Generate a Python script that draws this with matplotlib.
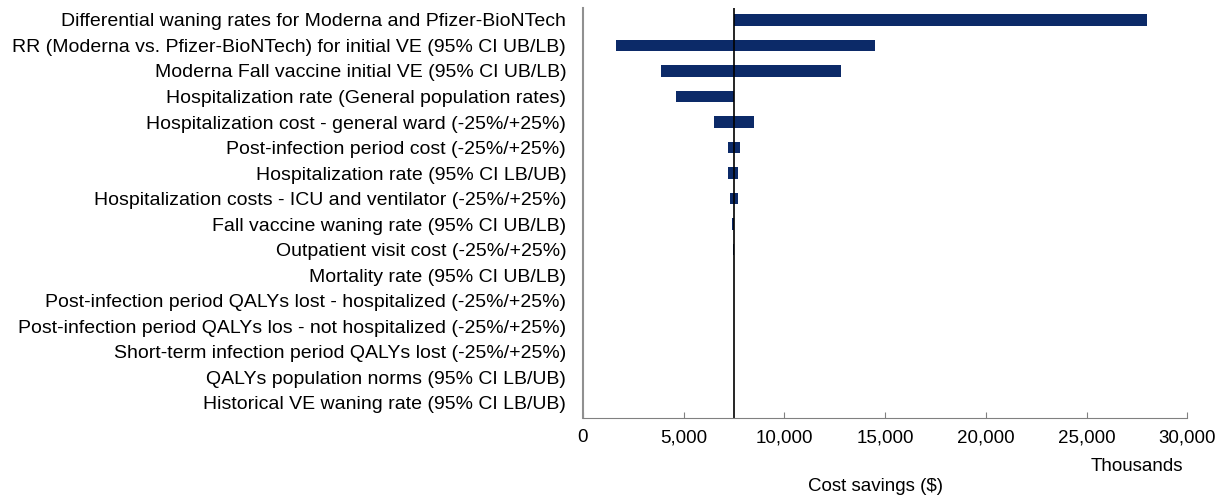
import matplotlib.pyplot as plt
import numpy as np

plt.rcParams['font.family'] = ['Liberation Sans', 'DejaVu Sans']

labels = [
    "Differential waning rates for Moderna and Pfizer-BioNTech",
    "RR (Moderna vs. Pfizer-BioNTech) for initial VE (95% CI UB/LB)",
    "Moderna Fall vaccine initial VE (95% CI UB/LB)",
    "Hospitalization rate (General population rates)",
    "Hospitalization cost - general ward (-25%/+25%)",
    "Post-infection period cost (-25%/+25%)",
    "Hospitalization rate (95% CI LB/UB)",
    "Hospitalization costs - ICU and ventilator (-25%/+25%)",
    "Fall vaccine waning rate (95% CI UB/LB)",
    "Outpatient visit cost (-25%/+25%)",
    "Mortality rate (95% CI UB/LB)",
    "Post-infection period QALYs lost - hospitalized (-25%/+25%)",
    "Post-infection period QALYs los - not hospitalized (-25%/+25%)",
    "Short-term infection period QALYs lost (-25%/+25%)",
    "QALYs population norms (95% CI LB/UB)",
    "Historical VE waning rate (95% CI LB/UB)",
]
base = 7480
low = [7480, 1650, 3900, 4630, 6530, 7190, 7190, 7290, 7400, 7450,
       7480, 7480, 7480, 7480, 7480, 7480]
high = [28000, 14500, 12800, 7480, 8500, 7810, 7720, 7700, 7480, 7490,
        7480, 7480, 7480, 7480, 7480, 7480]

y = np.arange(len(labels))
fig = plt.figure(figsize=(12.27, 4.98), dpi=100)
ax = fig.add_axes([0.475, 0.1606, 0.4926, 0.8234])
ax.barh(y, np.array(high) - np.array(low), left=low, height=0.46, color='#0c2a68')
ax.axvline(base, color='black', lw=1.2)

ax.set_xlim(0, 30000)
ax.set_ylim(15.6, -0.47)
ax.set_yticks(y)
ax.set_yticklabels(labels, fontsize=14)
ax.tick_params(axis='y', length=0, pad=12)
ax.set_xticks(range(0, 30001, 5000))
ax.set_xticklabels(["{:,}".format(v) for v in range(0, 30001, 5000)], fontsize=13.5)
ax.tick_params(axis='x', direction='in', length=4, pad=8, color='#808080')
for s in ['top', 'right']:
    ax.spines[s].set_visible(False)
ax.spines['left'].set_color('#909090')
ax.spines['bottom'].set_color('#808080')
ax.spines['left'].set_linewidth(1.5)

fig.text(1137 / 1227, 1 - 466 / 498, "Thousands", fontsize=13.5, ha='center', va='center')
fig.text(876 / 1227, 1 - 486 / 498, "Cost savings ($)", fontsize=13.5, ha='center', va='center')

plt.savefig("out.png")
